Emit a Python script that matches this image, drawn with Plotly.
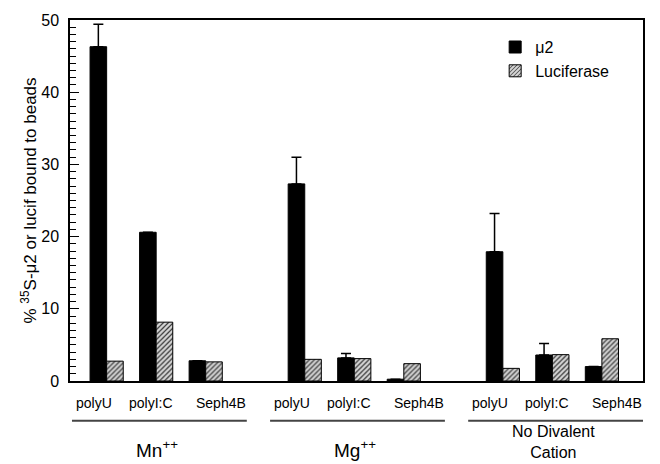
import plotly.graph_objects as go

# ---- data ----
conditions = ["Mn<sup>++</sup>", "Mg<sup>++</sup>", "No Divalent<br>Cation"]
matrices = ["polyU", "polyI:C", "Seph4B"]
mu2 = [46.3, 20.6, 2.8, 27.3, 3.2, 0.25, 17.9, 3.6, 2.0]
mu2_err = [3.1, 0.0, 0.0, 3.7, 0.6, 0.0, 5.3, 1.6, 0.0]
luciferase = [2.75, 8.15, 2.65, 3.0, 3.1, 2.4, 1.75, 3.65, 5.85]
y_ticks = [0, 10, 20, 30, 40, 50]

# positions: each condition group has 3 slots plus one empty slot
n_m = len(matrices)
xpos = [g * (n_m + 1) + i for g in range(len(conditions)) for i in range(n_m)]

FONT = "Arial, Liberation Sans, sans-serif"

fig = go.Figure()
fig.add_trace(go.Bar(
    x=xpos, y=mu2, name="μ2",
    marker=dict(color="black", line=dict(color="black", width=1)),
    error_y=dict(type="data", array=mu2_err, arrayminus=[0] * len(mu2),
                 symmetric=False, color="black", thickness=1.5, width=5),
))
fig.add_trace(go.Bar(
    x=xpos, y=luciferase, name="Luciferase",
    marker=dict(color="#d6d6d6", line=dict(color="black", width=1),
                pattern=dict(shape="/", fgcolor="#333333", bgcolor="#d6d6d6",
                             size=3.5, solidity=0.35, fillmode="replace")),
))

label_font = dict(family=FONT, size=14, color="black")
label_offsets = [-0.25, -0.1, 0.3]
annotations = []
shapes = []
for g, cond in enumerate(conditions):
    base = g * (n_m + 1)
    for i, m in enumerate(matrices):
        annotations.append(dict(x=base + i + label_offsets[i], y=-0.06, xref="x", yref="paper",
                                text=m, showarrow=False, font=label_font,
                                xanchor="center", yanchor="middle"))
    shapes.append(dict(type="line", xref="x", yref="paper",
                       x0=base - 0.7, x1=base + n_m - 0.17, y0=-0.11, y1=-0.11,
                       line=dict(color="#444", width=2)))
    two_line = "<br>" in cond
    annotations.append(dict(x=base + (n_m - 1) / 2 + 0.02, y=-0.17 if two_line else -0.188,
                            xref="x", yref="paper", text=cond, showarrow=False,
                            font=dict(family=FONT, size=16 if two_line else 19, color="black"),
                            xanchor="center", yanchor="middle"))

fig.update_layout(
    width=660, height=464,
    margin=dict(l=70, r=17, t=17, b=83),
    paper_bgcolor="white", plot_bgcolor="white",
    barmode="group", bargap=0.33, bargroupgap=0,
    showlegend=True,
    legend=dict(x=0.742, y=0.972, xanchor="left", yanchor="top",
                font=dict(family=FONT, size=16, color="black"),
                bgcolor="rgba(0,0,0,0)", tracegroupgap=2),
    annotations=annotations, shapes=shapes,
    font=dict(family=FONT, color="black"),
)
fig.update_xaxes(range=[-0.74, 10.83], showticklabels=False, ticks="",
                 showline=True, linecolor="black", linewidth=1.5, mirror=True,
                 showgrid=False, zeroline=False)
fig.update_yaxes(range=[0, 50], tickvals=y_ticks, ticks="inside", ticklen=9,
                 tickwidth=1.2, tickcolor="black",
                 minor=dict(dtick=1, ticks="inside", ticklen=6, tickcolor="black", tickwidth=1),
                 showline=True, linecolor="black", linewidth=1.5, mirror=True,
                 showgrid=False, zeroline=False, ticklabelstandoff=6,
                 tickfont=dict(family=FONT, size=16, color="black"),
                 title=dict(text="% <sup>35</sup>S-μ2 or lucif bound to beads",
                            font=dict(family=FONT, size=17, color="black"),
                            standoff=0))

fig.write_html("out.html", config={"displayModeBar": False},
               post_script="document.body.style.margin='0px';")
